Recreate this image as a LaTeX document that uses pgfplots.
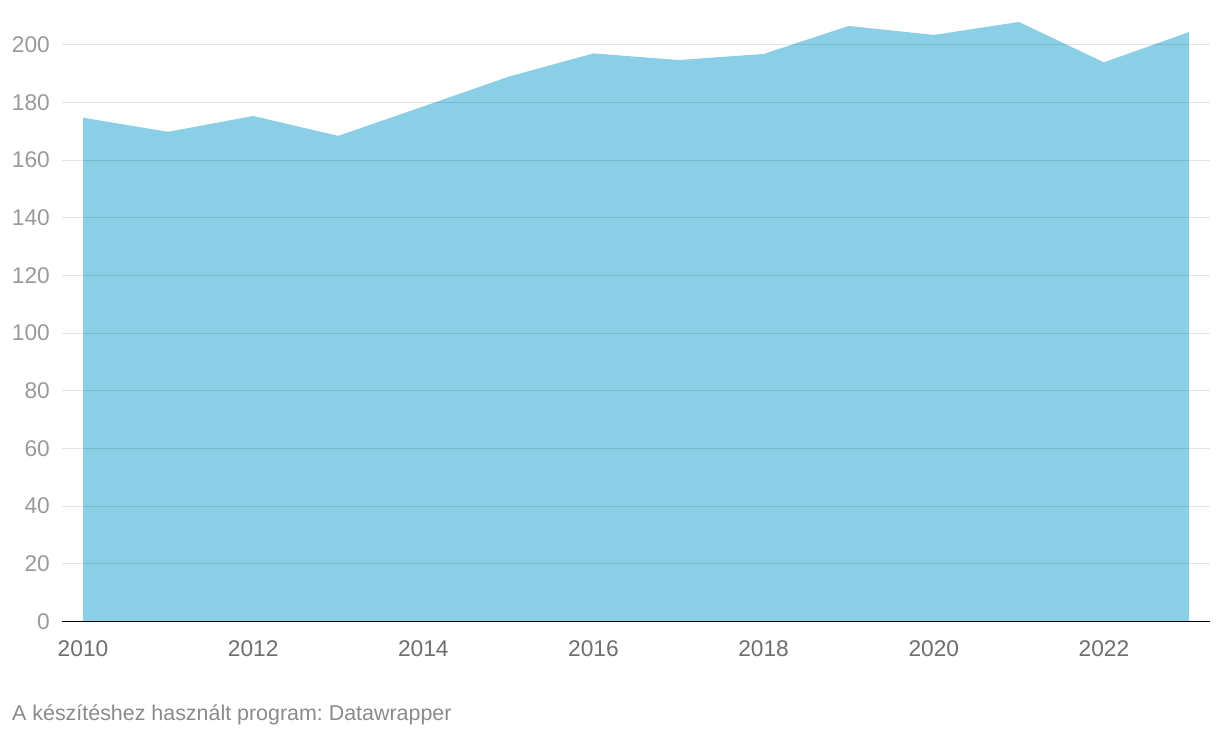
\documentclass[border=0pt]{standalone}
\usepackage{pgfplots}
\pgfplotsset{compat=1.18}
\usepackage{fontspec}
\setmainfont{Liberation Sans}
\frenchspacing
\definecolor{areafill}{HTML}{8BCFE6}
\definecolor{ylab}{HTML}{9A9A9A}
\definecolor{xlab}{HTML}{6E6E6E}
\definecolor{foot}{HTML}{8A8A8A}
\begin{document}
\begin{tikzpicture}
\path[use as bounding box] (-62bp,-116.5bp) rectangle (1158bp,621.5bp);
\begin{axis}[
  at={(0,0)}, anchor=south west,
  scale only axis,
  width=1148bp, height=605.6bp,
  xmin=2009.753, xmax=2023.247,
  ymin=0, ymax=210,
  axis on top,
  axis x line*=bottom, axis y line*=left,
  y axis line style={draw=none},
  x axis line style={black, line width=1.3bp, -},
  major tick length=0pt,
  xtick={2010,2012,...,2022},
  ytick={0,20,...,200},
  ymajorgrids,
  grid style={black, opacity=0.1, line width=1bp},
  /pgf/number format/1000 sep={},
  /pgf/number format/assume math mode=true,
  yticklabel style={font=\fontsize{22.8}{26}\selectfont, text=ylab, inner sep=0pt, anchor=east, xshift=-12bp},
  xticklabel style={font=\fontsize{22.8}{26}\selectfont, text=xlab, inner sep=0pt, anchor=base, yshift=-35.2bp},
  clip=false,
]
\addplot[fill=areafill, draw=none] coordinates {
(2010,174.7) (2011,169.8) (2012,175.3) (2013,168.4) (2014,178.6)
(2015,188.9) (2016,197.0) (2017,194.7) (2018,196.8) (2019,206.5)
(2020,203.4) (2021,207.9) (2022,193.9) (2023,204.4)
} \closedcycle;
\end{axis}
\node[anchor=base west, inner sep=0pt, text=foot, font=\fontsize{21.5}{25}\selectfont] at (-50bp,-99.2bp) {A készítéshez használt program: Datawrapper};
\end{tikzpicture}
\end{document}
